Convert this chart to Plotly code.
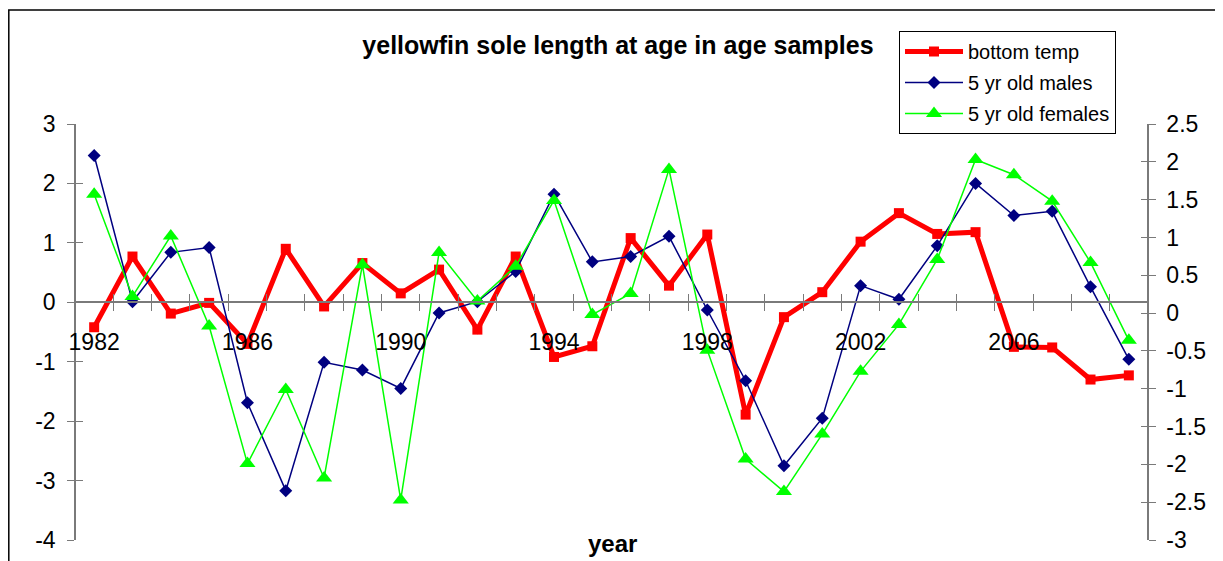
import plotly.graph_objects as go

years = list(range(1982, 2010))
bottom_temp = [-0.42, 0.77, -0.19, -0.01, -0.70, 0.90, -0.07, 0.66, 0.15, 0.55,
               -0.46, 0.77, -0.92, -0.74, 1.08, 0.28, 1.14, -1.89, -0.25, 0.17,
               1.02, 1.50, 1.15, 1.18, -0.75, -0.76, -1.30, -1.23]
males = [2.47, 0.01, 0.84, 0.92, -1.69, -3.17, -1.01, -1.14, -1.45, -0.18,
         0.01, 0.52, 1.82, 0.68, 0.77, 1.11, -0.13, -1.32, -2.75, -1.95,
         0.28, 0.05, 0.95, 2.00, 1.46, 1.53, 0.26, -0.96]
females = [1.57, 0.22, 1.02, -0.17, -1.99, -1.01, -2.18, 0.64, -2.47, 0.80,
           0.16, 0.62, 1.49, -0.02, 0.26, 1.90, -0.49, -1.93, -2.36, -1.60,
           -0.77, -0.15, 0.71, 2.03, 1.83, 1.48, 0.67, -0.36]
label_years = [1982, 1986, 1990, 1994, 1998, 2002, 2006]
left_ticks = [-4, -3, -2, -1, 0, 1, 2, 3]
right_ticks = [-3, -2.5, -2, -1.5, -1, -0.5, 0, 0.5, 1, 1.5, 2, 2.5]


def fmt(v):
    return ("%g" % v)


FONT = "Liberation Sans, Arial, sans-serif"
AX = "#7a7a7a"
TF = dict(size=23, family=FONT, color="black")
xr = [1981.5, 2009.5]
yl = [-4, 3]
yr = [-3, 2.5]
xpos = (0 - yl[0]) / (yl[1] - yl[0])

# page body has an 8px offset; plot area in page px: x 75..1148, y 124..540
OFF = 8
L, R, T, B = 75 - OFF, 1148 - OFF, 124 - OFF, 540 - OFF
PW, PH = R - L, B - T


def px(xp):
    return (xp - OFF - L) / PW


def py(yp):
    return (B - (yp - OFF)) / PH


fig = go.Figure()
fig.add_trace(go.Scatter(x=years, y=bottom_temp, name="bottom temp", mode="lines+markers",
                         line=dict(color="#ff0000", width=5),
                         marker=dict(symbol="square", size=10, color="#ff0000"),
                         xaxis="x", yaxis="y", legendgroup="a"))
fig.add_trace(go.Scatter(x=years, y=males, name="5 yr old males", mode="lines+markers",
                         line=dict(color="#000080", width=1.5),
                         marker=dict(symbol="diamond", size=10, color="#000080"),
                         xaxis="x", yaxis="y", legendgroup="b"))
fig.add_trace(go.Scatter(x=years, y=females, name="5 yr old females", mode="lines+markers",
                         line=dict(color="#00ff00", width=1.5),
                         marker=dict(symbol="triangle-up", size=14, color="#00ff00"),
                         xaxis="x", yaxis="y2", legendgroup="c"))
for xa, ya in [("x2", "y"), ("x3", "y"), ("x", "y3"), ("x", "y4")]:
    fig.add_trace(go.Scatter(x=[None], y=[None], xaxis=xa, yaxis=ya, showlegend=False,
                             hoverinfo="skip"))

fig.update_layout(
    width=1223, height=561,
    margin=dict(l=L, r=1223 - R, t=T, b=561 - B, autoexpand=False),
    paper_bgcolor="white", plot_bgcolor="white",
    font=dict(family=FONT, color="black"),
    showlegend=True,
    title=dict(text="<b>yellowfin sole length at age in age samples</b>",
               x=px(618), xref="paper", xanchor="center",
               y=1 - (45 - OFF) / 561, yref="container", yanchor="middle",
               font=dict(size=25, family=FONT, color="black")),
    xaxis=dict(range=xr, anchor="free", position=xpos, tickmode="linear",
               tick0=1981.5, dtick=1, ticks="outside", ticklen=8, tickcolor=AX,
               showticklabels=False, showline=True, linecolor=AX, linewidth=1.5,
               showgrid=False, zeroline=False),
    xaxis2=dict(range=xr, overlaying="x", anchor="free", position=xpos, tickmode="array",
                tickvals=label_years, ticktext=[str(y) for y in label_years],
                ticks="", showline=False, showgrid=False, zeroline=False,
                ticklabelstandoff=24, tickfont=TF),
    xaxis3=dict(range=xr, overlaying="x", anchor="free", position=xpos, tickmode="linear",
                tick0=1981.5, dtick=1, ticks="inside", ticklen=8, tickcolor=AX,
                showticklabels=False, showline=False, showgrid=False, zeroline=False),
    yaxis=dict(range=yl, anchor="free", position=0, tickmode="array",
               tickvals=left_ticks, ticktext=[fmt(v) for v in left_ticks],
               ticks="outside", ticklen=7, tickcolor=AX, showline=True, linecolor=AX,
               linewidth=1.5, showgrid=False, zeroline=False, ticklabelstandoff=7,
               tickfont=TF),
    yaxis2=dict(range=yr, overlaying="y", side="right", anchor="free", position=1,
                tickmode="array", tickvals=right_ticks,
                ticktext=[fmt(v) for v in right_ticks], ticks="outside", ticklen=7,
                tickcolor=AX, showline=True, linecolor=AX, linewidth=1.5, showgrid=False,
                zeroline=False, ticklabelstandoff=6, tickfont=TF),
    yaxis3=dict(range=yl, overlaying="y", anchor="free", position=0, tickmode="array",
                tickvals=left_ticks, ticks="inside", ticklen=7, tickcolor=AX,
                showticklabels=False, showline=False, showgrid=False, zeroline=False),
    yaxis4=dict(range=yr, overlaying="y", side="right", anchor="free", position=1,
                tickmode="array", tickvals=right_ticks, ticks="inside", ticklen=7,
                tickcolor=AX, showticklabels=False, showline=False, showgrid=False,
                zeroline=False),
    legend=dict(x=px(899), xanchor="left", y=py(31), yanchor="top",
                bgcolor="white", bordercolor="black", borderwidth=1,
                font=dict(size=20, family=FONT, color="black"),
                tracegroupgap=2, itemwidth=58),
    annotations=[dict(text="<b>year</b>", x=px(612), xref="paper", xanchor="center",
                      y=py(543), yref="paper", yanchor="middle",
                      showarrow=False, font=dict(size=24, family=FONT, color="black"))],
    shapes=[dict(type="rect", xref="paper", yref="paper",
                 x0=px(8.8), x1=1.3, y0=-0.3, y1=py(10),
                 line=dict(color="black", width=1.5), fillcolor="rgba(0,0,0,0)",
                 layer="below")],
)

fig.write_html("out.html")
